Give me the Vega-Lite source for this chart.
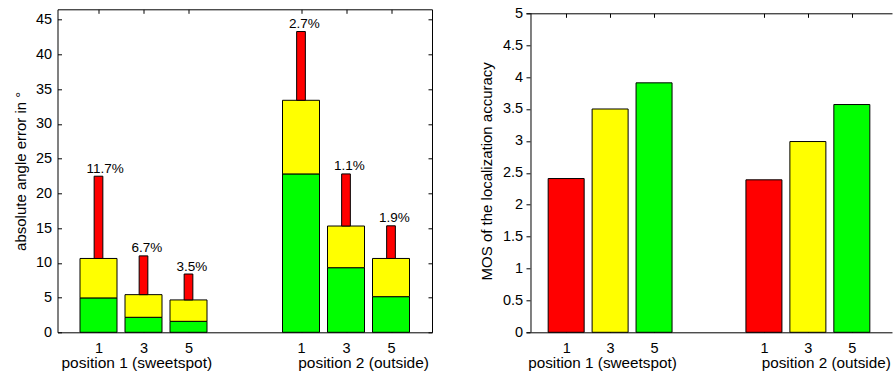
{
  "$schema": "https://vega.github.io/schema/vega-lite/v6.json",
  "padding": {"left": 12.5, "top": 5.3, "right": 0, "bottom": 0},
  "spacing": 46.5,
  "config": {
    "font": "Liberation Sans",
    "view": {"stroke": null},
    "axis": {
      "grid": false,
      "domainColor": "#000",
      "tickColor": "#000",
      "labelColor": "#000",
      "titleColor": "#000",
      "labelFont": "Liberation Sans",
      "titleFont": "Liberation Sans",
      "labelFontSize": 14.5,
      "titleFontSize": 15,
      "titleFontWeight": "normal",
      "tickSize": -4,
      "domainWidth": 1,
      "tickWidth": 1,
      "labelFlush": false
    }
  },
  "datasets": {
    "errWide": [
      {"x": 1, "n": 1, "band": "low", "lo": 0, "hi": 4.95},
      {"x": 1, "n": 1, "band": "mid", "lo": 4.95, "hi": 10.63},
      {"x": 2, "n": 3, "band": "low", "lo": 0, "hi": 2.16},
      {"x": 2, "n": 3, "band": "mid", "lo": 2.16, "hi": 5.42},
      {"x": 3, "n": 5, "band": "low", "lo": 0, "hi": 1.58},
      {"x": 3, "n": 5, "band": "mid", "lo": 1.58, "hi": 4.66},
      {"x": 5.5, "n": 1, "band": "low", "lo": 0, "hi": 22.8},
      {"x": 5.5, "n": 1, "band": "mid", "lo": 22.8, "hi": 33.4},
      {"x": 6.5, "n": 3, "band": "low", "lo": 0, "hi": 9.3},
      {"x": 6.5, "n": 3, "band": "mid", "lo": 9.3, "hi": 15.3},
      {"x": 7.5, "n": 5, "band": "low", "lo": 0, "hi": 5.13},
      {"x": 7.5, "n": 5, "band": "mid", "lo": 5.13, "hi": 10.63}
    ],
    "errTop": [
      {"x": 1, "n": 1, "band": "high", "lo": 10.63, "hi": 22.47, "pct": "11.7%"},
      {"x": 2, "n": 3, "band": "high", "lo": 5.42, "hi": 11.0, "pct": "6.7%"},
      {"x": 3, "n": 5, "band": "high", "lo": 4.66, "hi": 8.39, "pct": "3.5%"},
      {"x": 5.5, "n": 1, "band": "high", "lo": 33.4, "hi": 43.3, "pct": "2.7%"},
      {"x": 6.5, "n": 3, "band": "high", "lo": 15.3, "hi": 22.8, "pct": "1.1%"},
      {"x": 7.5, "n": 5, "band": "high", "lo": 10.63, "hi": 15.33, "pct": "1.9%"}
    ],
    "mos": [
      {"x": 1, "n": 1, "band": "high", "mos": 2.41},
      {"x": 2, "n": 3, "band": "mid", "mos": 3.5},
      {"x": 3, "n": 5, "band": "low", "mos": 3.91},
      {"x": 5.5, "n": 1, "band": "high", "mos": 2.39},
      {"x": 6.5, "n": 3, "band": "mid", "mos": 2.99},
      {"x": 7.5, "n": 5, "band": "low", "mos": 3.57}
    ],
    "frame": [
      {"xmin": 0.2, "ymin": 0, "ymax": 5}
    ]
  },
  "hconcat": [
    {
      "width": 374.5,
      "height": 323,
      "layer": [
        {
          "data": {"name": "errWide"},
          "mark": {"type": "bar", "width": 37, "stroke": "#000", "strokeWidth": 1},
          "encoding": {
            "x": {
              "field": "x", "type": "quantitative",
              "scale": {"domain": [0.2, 8.3], "nice": false, "zero": false},
              "axis": {
                "orient": "bottom",
                "values": [1, 2, 3, 5.5, 6.5, 7.5],
                "labelExpr": "datum.value == 1 || datum.value == 5.5 ? '1' : (datum.value == 2 || datum.value == 6.5 ? '3' : '5')",
                "labelPadding": 12.8,
                "title": "position 1 (sweetspot)\u00a0\u00a0\u00a0\u00a0\u00a0\u00a0\u00a0\u00a0\u00a0\u00a0\u00a0\u00a0\u00a0\u00a0\u00a0\u00a0\u00a0\u00a0\u00a0\u00a0position 2 (outside)",
                "titleFontSize": 15.5,
                "titlePadding": 0.5
              }
            },
            "y": {
              "field": "lo", "type": "quantitative",
              "scale": {"domain": [0, 46.5], "nice": false},
              "axis": {
                "orient": "left",
                "values": [0, 5, 10, 15, 20, 25, 30, 35, 40, 45],
                "title": "absolute angle error in °",
                "labelPadding": 10,
                "titlePadding": 7
              }
            },
            "y2": {"field": "hi"},
            "color": {
              "field": "band", "type": "nominal",
              "scale": {"domain": ["low", "mid", "high"], "range": ["#00ff00", "#ffff00", "#ff0000"]},
              "legend": null
            }
          }
        },
        {
          "data": {"name": "errTop"},
          "mark": {"type": "bar", "width": 8.7, "stroke": "#000", "strokeWidth": 1},
          "encoding": {
            "x": {"field": "x", "type": "quantitative", "axis": null},
            "y": {"field": "lo", "type": "quantitative", "axis": null},
            "y2": {"field": "hi"},
            "color": {"field": "band", "type": "nominal", "legend": null}
          }
        },
        {
          "data": {"name": "errTop"},
          "mark": {"type": "text", "align": "left", "baseline": "alphabetic", "dx": -12, "dy": -3.5, "fontSize": 13.5, "color": "#000"},
          "encoding": {
            "x": {"field": "x", "type": "quantitative", "axis": null},
            "y": {"field": "hi", "type": "quantitative", "axis": null},
            "text": {"field": "pct"}
          }
        },
        {
          "data": {"name": "errTop"},
          "mark": {"type": "point", "opacity": 0},
          "encoding": {
            "x": {"field": "x", "type": "quantitative", "axis": {"orient": "top", "values": [1, 2, 3, 5.5, 6.5, 7.5], "labels": false, "title": null}},
            "y": {"field": "hi", "type": "quantitative", "axis": {"orient": "right", "values": [0, 5, 10, 15, 20, 25, 30, 35, 40, 45], "labels": false, "title": null}}
          }
        }
      ],
      "resolve": {"axis": {"x": "independent", "y": "independent"}}
    },
    {
      "width": 366,
      "height": 323,
      "layer": [
        {
          "data": {"name": "mos"},
          "mark": {"type": "bar", "width": 36, "stroke": "#000", "strokeWidth": 1},
          "encoding": {
            "x": {
              "field": "x", "type": "quantitative",
              "scale": {"domain": [0.2, 8.3], "nice": false, "zero": false},
              "axis": {
                "orient": "bottom",
                "values": [1, 2, 3, 5.5, 6.5, 7.5],
                "labelExpr": "datum.value == 1 || datum.value == 5.5 ? '1' : (datum.value == 2 || datum.value == 6.5 ? '3' : '5')",
                "labelPadding": 12.8,
                "title": "position 1 (sweetspot)\u00a0\u00a0\u00a0\u00a0\u00a0\u00a0\u00a0\u00a0\u00a0\u00a0\u00a0\u00a0\u00a0\u00a0\u00a0\u00a0\u00a0\u00a0\u00a0\u00a0position 2 (outside)",
                "titleFontSize": 15.3,
                "titlePadding": 0.5
              }
            },
            "y": {
              "field": "mos", "type": "quantitative",
              "scale": {"domain": [0, 5.0627], "nice": false},
              "axis": {
                "orient": "left",
                "domain": false,
                "values": [0, 0.5, 1, 1.5, 2, 2.5, 3, 3.5, 4, 4.5, 5],
                "format": "~g",
                "title": "MOS of the localization accuracy",
                "labelPadding": 7.4,
                "titlePadding": 8.3
              }
            },
            "color": {
              "field": "band", "type": "nominal",
              "scale": {"domain": ["low", "mid", "high"], "range": ["#00ff00", "#ffff00", "#ff0000"]},
              "legend": null
            }
          }
        },
        {
          "data": {"name": "frame"},
          "mark": {"type": "rule", "color": "#000", "strokeWidth": 1},
          "encoding": {
            "x": {"field": "xmin", "type": "quantitative", "axis": null},
            "y": {"field": "ymin", "type": "quantitative", "axis": null},
            "y2": {"field": "ymax"}
          }
        },
        {
          "data": {"name": "mos"},
          "mark": {"type": "point", "opacity": 0},
          "encoding": {
            "x": {"field": "x", "type": "quantitative", "axis": {"orient": "top", "offset": -4, "values": [1, 2, 3, 5.5, 6.5, 7.5], "labels": false, "title": null}},
            "y": {"field": "mos", "type": "quantitative", "axis": null}
          }
        }
      ],
      "resolve": {"axis": {"x": "independent", "y": "independent"}}
    }
  ]
}
